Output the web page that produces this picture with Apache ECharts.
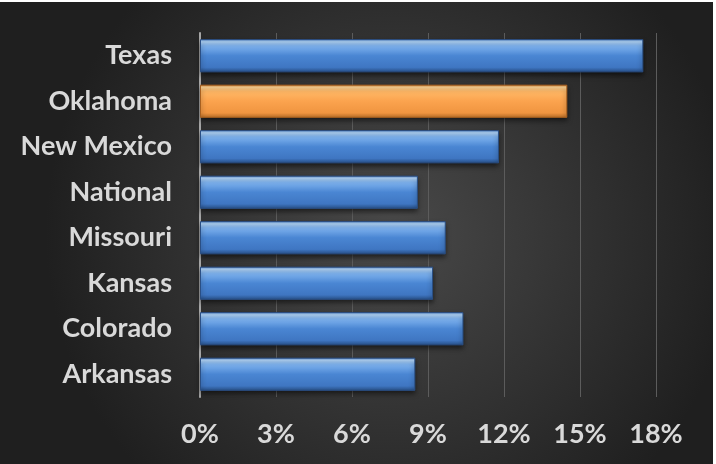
<!DOCTYPE html>
<html><head><meta charset="utf-8">
<script src="https://cdn.jsdelivr.net/npm/echarts@6/dist/echarts.min.js"></script>
<style>html,body{margin:0;padding:0;background:#fff;}#c{position:absolute;left:0;top:2px;width:713px;height:462px;}</style>
</head><body><div id="c"></div>
<script>
const categories = ['Arkansas','Colorado','Kansas','Missouri','National','New Mexico','Oklahoma','Texas'];
const values = [8.5, 10.4, 9.2, 9.7, 8.6, 11.8, 14.5, 17.5];
const highlight = 'Oklahoma';
const tickMin = 0, tickMax = 18, tickStep = 3;

const blue = {type:'linear',x:0,y:0,x2:0,y2:1,colorStops:[
  {offset:0,color:'#5b8fd3'},{offset:0.08,color:'#b4d8fc'},{offset:0.2,color:'#7fb3ef'},
  {offset:0.5,color:'#4a86d3'},{offset:0.85,color:'#3f76c2'},{offset:1,color:'#274f86'}]};
const orange = {type:'linear',x:0,y:0,x2:0,y2:1,colorStops:[
  {offset:0,color:'#d98a3c'},{offset:0.08,color:'#ffd596'},{offset:0.2,color:'#ffb866'},
  {offset:0.5,color:'#fba34e'},{offset:0.85,color:'#f09540'},{offset:1,color:'#b86d27'}]};

const chart = echarts.init(document.getElementById('c'));
chart.setOption({
  backgroundColor:{type:'radial',x:0.55,y:0.5,r:0.75,colorStops:[{offset:0,color:'#494949'},{offset:1,color:'#1f1f1f'}]},
  animation:false,
  grid:{left:200,right:57,top:31,bottom:67,containLabel:false},
  xAxis:{type:'value',min:tickMin,max:tickMax,interval:tickStep,
    axisLine:{show:false},axisTick:{show:false},
    splitLine:{lineStyle:{color:'#5c5c5c',width:1}},
    axisLabel:{formatter:v=>v+'%',color:'#d9d9d9',fontSize:27,fontWeight:'bold',fontFamily:'Lato',margin:24}},
  yAxis:{type:'category',data:categories,
    axisLine:{lineStyle:{color:'#a6a6a6',width:2}},axisTick:{show:false},
    axisLabel:{color:'#d9d9d9',fontSize:27,fontWeight:'bold',fontFamily:'Lato',margin:28}},
  series:[{type:'bar',barCategoryGap:'27%',
    data:values.map((v,i)=>({value:v,itemStyle:{color:categories[i]===highlight?orange:blue,
      borderColor:categories[i]===highlight?'#a8601f':'#2a4f85'}})),
    itemStyle:{borderWidth:1,shadowColor:'rgba(0,0,0,0.6)',shadowBlur:5,shadowOffsetY:3}}]
});
</script></body></html>
